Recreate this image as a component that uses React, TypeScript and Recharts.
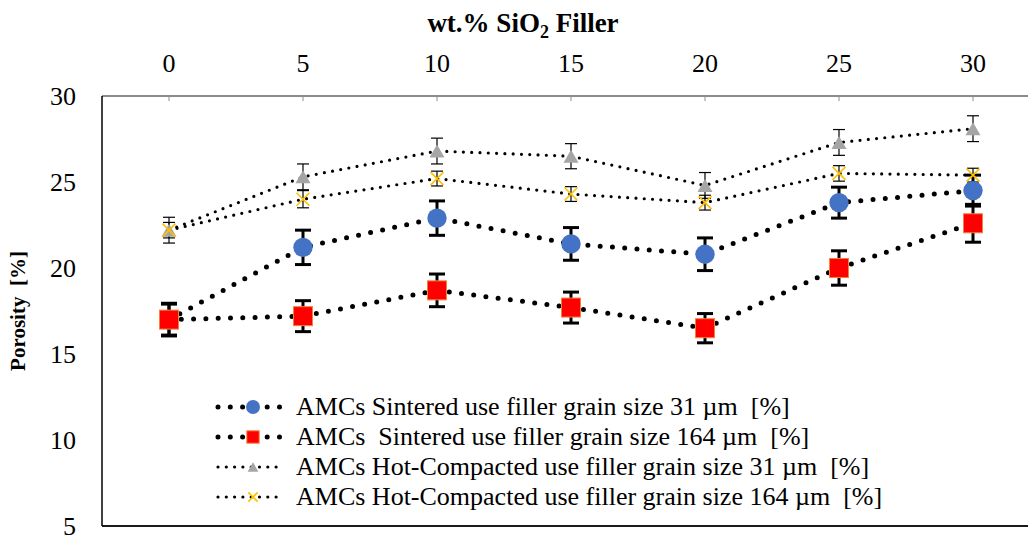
import React from 'react';
import { LineChart, Line, XAxis, YAxis, ErrorBar, Legend } from 'recharts';

const categories = ['0', '5', '10', '15', '20', '25', '30'];
const sinter31 = [17.0, 21.2, 22.9, 21.4, 20.8, 23.8, 24.5];
const sinter31Err = [0.9, 1.0, 1.0, 0.95, 0.95, 0.9, 0.9];
const sinter164 = [17.0, 17.2, 18.7, 17.7, 16.5, 20.0, 22.6];
const sinter164Err = [0.95, 0.9, 0.95, 0.9, 0.85, 1.0, 1.1];
const hot31 = [22.2, 25.3, 26.8, 26.5, 24.8, 27.3, 28.1];
const hot31Err = [0.75, 0.75, 0.75, 0.73, 0.75, 0.75, 0.75];
const hot164 = [22.2, 24.0, 25.2, 24.3, 23.8, 25.5, 25.4];
const hot164Err = [0.45, 0.5, 0.43, 0.43, 0.43, 0.45, 0.4];
const yTicks = [5, 10, 15, 20, 25, 30];

const seriesNames = [
  'AMCs Sintered use filler grain size 31 µm  [%]',
  'AMCs  Sintered use filler grain size 164 µm  [%]',
  'AMCs Hot-Compacted use filler grain size 31 µm  [%]',
  'AMCs Hot-Compacted use filler grain size 164 µm  [%]',
];

const data = categories.map((c, i) => ({
  cat: c,
  s31: sinter31[i],
  s31e: sinter31Err[i],
  s164: sinter164[i],
  s164e: sinter164Err[i],
  h31: hot31[i],
  h31e: hot31Err[i],
  h164: hot164[i],
  h164e: hot164Err[i],
}));

const FONT = 'Liberation Serif, Tinos, Times New Roman, DejaVu Serif, serif';

const drawMarker = (kind: number, cx: number, cy: number, s = 1) => {
  if (kind === 0) return <circle cx={cx} cy={cy} r={9.7 * s} fill="#4472C4" />;
  if (kind === 1) {
    const h = 9.5 * s;
    return <rect x={cx - h} y={cy - h} width={h * 2} height={h * 2} fill="#FF0000" stroke="#F4823C" strokeWidth={1} />;
  }
  if (kind === 2) {
    const w = 7.5 * s;
    const h = 6.5 * s;
    return <polygon points={`${cx - w},${cy + h} ${cx + w},${cy + h} ${cx},${cy - h}`} fill="#A5A5A5" />;
  }
  const d = 6.5 * s;
  return (
    <g stroke="#FFC000" strokeWidth={1.6}>
      <line x1={cx - d} y1={cy - d} x2={cx + d} y2={cy + d} />
      <line x1={cx - d} y1={cy + d} x2={cx + d} y2={cy - d} />
    </g>
  );
};

const dotFor = (kind: number) => (p: any) => {
  if (p.cx == null || p.cy == null) return <g key={p.key} />;
  return <g key={p.key ?? `${kind}-${p.index}`}>{drawMarker(kind, p.cx, p.cy)}</g>;
};

const XTick = (p: any) => {
  const x = p.payload.coordinate;
  return (
    <g>
      <text x={x} y={72} textAnchor="middle" fontFamily={FONT} fontSize={26} fill="#000">
        {p.payload.value}
      </text>
      <line x1={x} y1={96} x2={x} y2={101} stroke="#8c8c8c" strokeWidth={1} />
    </g>
  );
};

const LegendBox = () => (
  <div style={{ fontFamily: FONT, fontSize: 26, color: '#000', lineHeight: '30px' }}>
    {seriesNames.map((name, i) => {
      const big = i < 2;
      return (
        <div key={name} style={{ display: 'flex', alignItems: 'center', height: 30, whiteSpace: 'pre' }}>
          <svg width={84} height={30} style={{ flex: 'none' }}>
            <line
              x1={6}
              y1={15}
              x2={70}
              y2={15}
              stroke="#000"
              strokeWidth={big ? 5 : 3.2}
              strokeDasharray={big ? '0 12.3' : '0 8.3'}
              strokeLinecap="round"
            />
            {drawMarker(i, 41, 15, i === 1 ? 0.65 : 0.72)}
          </svg>
          <span>{name}</span>
        </div>
      );
    })}
  </div>
);

export default function App() {
  return (
    <div style={{ position: 'absolute', left: 0, top: 0, width: 1028, height: 535, overflow: 'hidden', background: '#fff' }}>
      <LineChart width={1046} height={535} data={data} margin={{ top: 0, right: 6, bottom: 8, left: 0 }}>
        <XAxis
          dataKey="cat"
          orientation="top"
          height={96}
          padding={{ left: 67, right: 67 }}
          axisLine={{ stroke: '#8c8c8c', strokeWidth: 2 }}
          tickLine={false}
          tick={<XTick />}
          interval={0}
          label={{
            content: (props: any) => {
              const vb = props.viewBox || {};
              const cx = (vb.x ?? 0) + (vb.width ?? 0) / 2 - 48;
              return (
                <text x={cx} y={32} textAnchor="middle" fontFamily={FONT} fontSize={27} fontWeight="bold" fill="#000">
                  wt.% SiO
                  <tspan dy={6} fontSize={18}>2</tspan>
                  <tspan dy={-6}> Filler</tspan>
                </text>
              );
            },
          }}
        />
        <XAxis
          xAxisId="b"
          dataKey="cat"
          orientation="bottom"
          height={1}
          padding={{ left: 67, right: 67 }}
          tick={false}
          tickLine={false}
          axisLine={{ stroke: '#1a1a1a', strokeWidth: 2 }}
        />
        <YAxis
          domain={[5, 30]}
          ticks={yTicks}
          width={102}
          tickLine={false}
          tickMargin={20}
          axisLine={{ stroke: '#000', strokeWidth: 1.5 }}
          tick={{ fontFamily: FONT, fontSize: 26, fill: '#000' }}
          interval={0}
          label={{
            content: (props: any) => {
              const vb = props.viewBox || {};
              const cy = (vb.y ?? 0) + (vb.height ?? 0) / 2;
              return (
                <text
                  x={18}
                  y={cy}
                  transform={`rotate(-90 18 ${cy})`}
                  textAnchor="middle"
                  dominantBaseline="central"
                  fontFamily={FONT}
                  fontSize={21}
                  fontWeight="bold"
                  fill="#000"
                  style={{ whiteSpace: 'pre' }}
                >
                  {'Porosity  [%]'}
                </text>
              );
            },
          }}
        />
        <Legend
          layout="vertical"
          align="center"
          verticalAlign="middle"
          content={<LegendBox />}
          wrapperStyle={{ left: 212, top: 392, width: 780 }}
        />
        <Line
          dataKey="s31"
          name={seriesNames[0]}
          stroke="#000"
          strokeWidth={5}
          strokeDasharray="0 12.3"
          strokeLinecap="round"
          dot={dotFor(0)}
          activeDot={false}
          isAnimationActive={false}
        >
          <ErrorBar dataKey="s31e" width={8} stroke="#000" strokeWidth={3} direction="y" />
        </Line>
        <Line
          dataKey="s164"
          name={seriesNames[1]}
          stroke="#000"
          strokeWidth={5}
          strokeDasharray="0 12.3"
          strokeLinecap="round"
          dot={dotFor(1)}
          activeDot={false}
          isAnimationActive={false}
        >
          <ErrorBar dataKey="s164e" width={8} stroke="#000" strokeWidth={3} direction="y" />
        </Line>
        <Line
          dataKey="h31"
          name={seriesNames[2]}
          stroke="#000"
          strokeWidth={3.2}
          strokeDasharray="0 8.3"
          strokeLinecap="round"
          dot={dotFor(2)}
          activeDot={false}
          isAnimationActive={false}
        >
          <ErrorBar dataKey="h31e" width={6} stroke="#000" strokeWidth={1.2} direction="y" />
        </Line>
        <Line
          dataKey="h164"
          name={seriesNames[3]}
          stroke="#000"
          strokeWidth={3.2}
          strokeDasharray="0 8.3"
          strokeLinecap="round"
          dot={dotFor(3)}
          activeDot={false}
          isAnimationActive={false}
        >
          <ErrorBar dataKey="h164e" width={6} stroke="#000" strokeWidth={1.2} direction="y" />
        </Line>
      </LineChart>
    </div>
  );
}
